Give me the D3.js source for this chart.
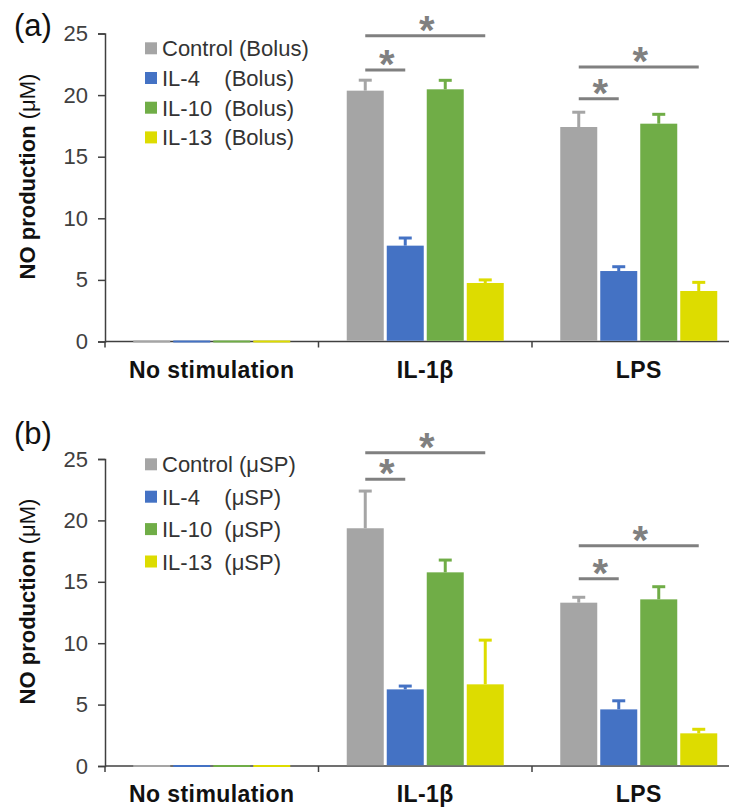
<!DOCTYPE html>
<html>
<head>
<meta charset="utf-8">
<script src="https://cdn.jsdelivr.net/npm/d3@7"></script>
<style>
  body { margin: 0; background: #fff; }
  svg { display: block; font-family: 'Liberation Sans', Arial, sans-serif; }
</style>
</head>
<body>
<svg></svg>
<script>
const categories = ['No stimulation', 'IL-1β', 'LPS'];
const colors = ['#a5a5a5', '#4472c4', '#70ad47', '#dddc00'];
const tickValues = [0, 5, 10, 15, 20, 25];

// panel (a) - bolus
const bolusNames = ['Control (Bolus)', 'IL-4    (Bolus)', 'IL-10  (Bolus)', 'IL-13  (Bolus)'];
const bolusControl = [0, 20.36, 17.41];
const bolusIL4 = [0, 7.78, 5.72];
const bolusIL10 = [0, 20.47, 17.68];
const bolusIL13 = [0, 4.75, 4.1];
const bolusControlErr = [0, 0.85, 1.2];
const bolusIL4Err = [0, 0.62, 0.35];
const bolusIL10Err = [0, 0.73, 0.76];
const bolusIL13Err = [0, 0.25, 0.7];
// [category, from series, to series, bracket height]
const bolusSig = [[1, 0, 3, 24.82], [1, 0, 1, 22.04], [2, 0, 3, 22.28], [2, 0, 1, 19.71]];

// panel (b) - µSP
const uspNames = ['Control (μSP)', 'IL-4    (μSP)', 'IL-10  (μSP)', 'IL-13  (μSP)'];
const uspControl = [0, 19.36, 13.3];
const uspIL4 = [0, 6.24, 4.61];
const uspIL10 = [0, 15.77, 13.57];
const uspIL13 = [0, 6.65, 2.66];
const uspControlErr = [0, 3.03, 0.44];
const uspIL4Err = [0, 0.27, 0.7];
const uspIL10Err = [0, 1.0, 1.03];
const uspIL13Err = [0, 3.6, 0.33];
const uspSig = [[1, 0, 3, 25.5], [1, 0, 1, 23.35], [2, 0, 3, 17.94], [2, 0, 1, 15.25]];

// ---

const SVG = d3.select('svg').attr('width', 729).attr('height', 810);
const AXIS_X = 105;
const AXIS_COLOR = '#404040';

// categories and the bars inside each category
const x = d3.scaleBand().domain(categories).range([AXIS_X, 745.5]);
const xs = d3.scaleBand().domain(d3.range(4)).range([-80, 80])
  .paddingInner(0.075).paddingOuter(0.0375);

const barX = (c, s) => x(categories[c]) + x.bandwidth() / 2 + xs(s);
const barMid = (c, s) => barX(c, s) + xs.bandwidth() / 2;

function drawPanel(p) {
  const y = d3.scaleLinear().domain([0, 25]).range([p.y0, p.y25]);
  const g = SVG.append('g');

  // panel letter
  g.append('text').attr('x', 14).attr('y', p.labelY)
    .attr('font-size', 31).attr('fill', '#111').text(p.label);

  // y axis
  const yAxisG = g.append('g').attr('transform', `translate(${AXIS_X},0)`)
    .call(d3.axisLeft(y).tickValues(tickValues).tickSize(7).tickPadding(10));
  yAxisG.attr('font-family', null).attr('font-size', 22);
  yAxisG.selectAll('text').attr('fill', AXIS_COLOR);
  yAxisG.selectAll('line,path').attr('stroke', AXIS_COLOR).attr('stroke-width', 1.5);

  // y title
  const title = g.append('text')
    .attr('transform', `translate(35,${(p.y0 + p.y25) / 2 - 11}) rotate(-90)`)
    .attr('text-anchor', 'middle').attr('font-size', 22).attr('fill', '#111');
  title.append('tspan').attr('font-weight', 'bold').text('NO production');
  title.append('tspan').text(' (μM)');

  // x axis
  const xAxisG = g.append('g').attr('transform', `translate(0,${p.y0})`)
    .call(d3.axisBottom(x).tickSize(0).tickPadding(20));
  xAxisG.select('.domain').remove();
  xAxisG.attr('font-family', null).attr('font-size', 23).attr('font-weight', 'bold');
  xAxisG.selectAll('text').attr('fill', '#111').attr('letter-spacing', 0.4);
  xAxisG.append('line').attr('x1', AXIS_X).attr('x2', x.range()[1])
    .attr('stroke', AXIS_COLOR).attr('stroke-width', 1.5);
  xAxisG.selectAll('line.sep').data(categories.concat(['end'])).join('line')
    .attr('class', 'sep')
    .attr('x1', (d, i) => i < categories.length ? x(d) : x.range()[1])
    .attr('x2', (d, i) => i < categories.length ? x(d) : x.range()[1])
    .attr('y1', 0).attr('y2', 6)
    .attr('stroke', AXIS_COLOR).attr('stroke-width', 1.5);

  // bars
  const bars = [];
  p.means.forEach((vals, s) => vals.forEach((v, c) => bars.push({ s, c, v, e: p.errs[s][c] })));

  g.selectAll('rect.bar').data(bars).join('rect').attr('class', 'bar')
    .attr('x', d => barX(d.c, d.s))
    .attr('width', xs.bandwidth())
    .attr('y', d => d.v > 0 ? y(d.v) : y(0) - 1)
    .attr('height', d => d.v > 0 ? y(0) - y(d.v) - 0.75 : 2)
    .attr('fill', d => colors[d.s]);

  // error bars (upper only)
  const withErr = bars.filter(d => d.e > 0);
  g.selectAll('line.stem').data(withErr).join('line').attr('class', 'stem')
    .attr('x1', d => barMid(d.c, d.s)).attr('x2', d => barMid(d.c, d.s))
    .attr('y1', d => y(d.v)).attr('y2', d => y(d.v + d.e))
    .attr('stroke', d => colors[d.s]).attr('stroke-width', 3);
  g.selectAll('line.cap').data(withErr).join('line').attr('class', 'cap')
    .attr('x1', d => barMid(d.c, d.s) - 6.5).attr('x2', d => barMid(d.c, d.s) + 6.5)
    .attr('y1', d => y(d.v + d.e)).attr('y2', d => y(d.v + d.e))
    .attr('stroke', d => colors[d.s]).attr('stroke-width', 3);

  // significance brackets
  g.selectAll('line.sig').data(p.sig).join('line').attr('class', 'sig')
    .attr('x1', d => barMid(d[0], d[1])).attr('x2', d => barMid(d[0], d[2]))
    .attr('y1', d => y(d[3])).attr('y2', d => y(d[3]))
    .attr('stroke', '#808080').attr('stroke-width', 3);
  g.selectAll('text.star').data(p.sig).join('text').attr('class', 'star')
    .attr('x', d => (barMid(d[0], d[1]) + barMid(d[0], d[2])) / 2 + 1.5)
    .attr('y', d => y(d[3]) + 8)
    .attr('text-anchor', 'middle').attr('font-size', 40).attr('font-weight', 'bold')
    .attr('fill', '#808080')
    .text('*');

  // legend
  const leg = g.selectAll('g.leg').data(p.names).join('g').attr('class', 'leg')
    .attr('transform', (d, i) => `translate(145,${p.legendY + i * p.legendStep})`);
  leg.append('rect').attr('x', 0).attr('y', -6).attr('width', 12).attr('height', 12)
    .attr('fill', (d, i) => colors[i]);
  leg.append('text').attr('x', 17).attr('y', 8)
    .attr('font-size', 22).attr('fill', '#333')
    .style('white-space', 'pre')
    .text(d => d);
}

drawPanel({
  label: '(a)', labelY: 35.7,
  y0: 341.5, y25: 33.5,
  names: bolusNames,
  means: [bolusControl, bolusIL4, bolusIL10, bolusIL13],
  errs: [bolusControlErr, bolusIL4Err, bolusIL10Err, bolusIL13Err],
  sig: bolusSig,
  legendY: 48.3, legendStep: 29.7
});

drawPanel({
  label: '(b)', labelY: 443.7,
  y0: 766, y25: 459,
  names: uspNames,
  means: [uspControl, uspIL4, uspIL10, uspIL13],
  errs: [uspControlErr, uspIL4Err, uspIL10Err, uspIL13Err],
  sig: uspSig,
  legendY: 464.3, legendStep: 32.4
});
</script>
</body>
</html>
